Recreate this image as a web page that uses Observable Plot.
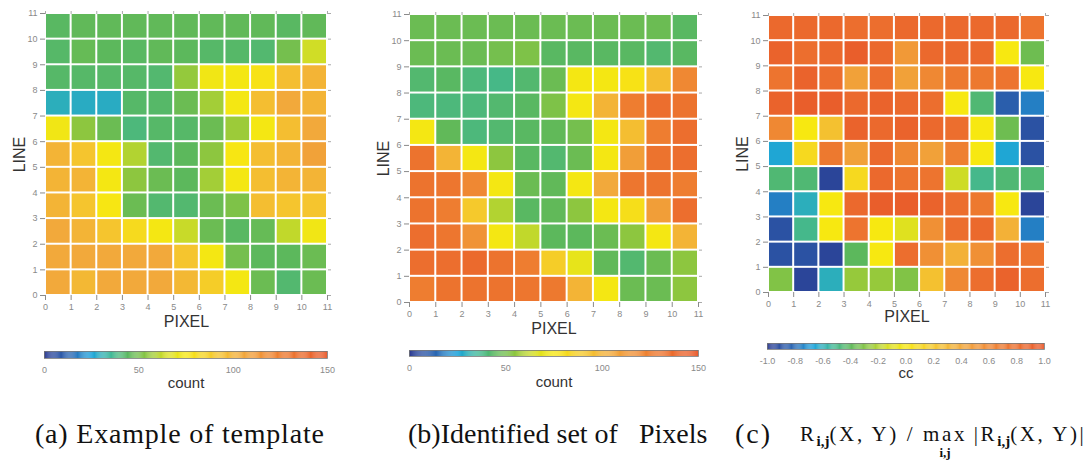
<!DOCTYPE html>
<html><head><meta charset="utf-8">
<script src="https://cdn.jsdelivr.net/npm/d3@7"></script>
<script src="https://cdn.jsdelivr.net/npm/@observablehq/plot@0.6"></script>
<style>
body{margin:0;background:#fff;width:1090px;height:462px;position:relative;overflow:hidden;font-family:"Liberation Sans",Arial,sans-serif;}
.pos{position:absolute;}
.cap{position:absolute;font-family:"Liberation Serif","DejaVu Serif",serif;color:#111;white-space:nowrap;line-height:1;}
.stack{display:inline-block;position:relative;}
.under{position:absolute;left:0;right:0;top:22px;text-align:center;font-weight:bold;font-size:13px;letter-spacing:0;line-height:1;}
</style></head><body>
<script>
// ---- data ----
const pixels = [0,1,2,3,4,5,6,7,8,9,10];
const lines  = [10,9,8,7,6,5,4,3,2,1,0]; // rows listed top to bottom
const axisTicks = [0,1,2,3,4,5,6,7,8,9,10,11];
const countTicks = [0,50,100,150];
const ccTicks = [-1.0,-0.8,-0.6,-0.4,-0.2,0.0,0.2,0.4,0.6,0.8,1.0];

const templateCounts = [
 [44,46,46,46,46,46,46,46,46,44,46],
 [43,47,45,44,46,45,43,43,42,50,64],
 [43,43,43,43,42,56,73,74,78,95,100],
 [30,29,29,43,43,48,58,74,95,105,100],
 [73,55,48,40,43,43,48,57,74,95,105],
 [100,92,74,60,42,45,55,76,95,100,108],
 [100,100,74,55,48,45,58,74,95,100,100],
 [100,92,76,48,42,42,48,52,95,92,92],
 [105,100,92,82,74,63,48,44,47,62,73],
 [105,105,105,105,105,92,74,50,45,45,48],
 [105,98,105,105,105,98,88,74,48,42,48]
];
const identifiedCounts = [
 [48,48,48,48,48,48,48,48,48,48,44],
 [48,48,48,50,52,44,44,44,44,42,44],
 [42,44,40,38,42,48,74,74,78,95,120],
 [40,40,40,42,44,52,74,100,125,135,132],
 [74,46,40,42,44,46,50,74,95,125,135],
 [132,100,74,55,44,42,48,74,110,132,135],
 [132,130,120,74,48,46,74,105,130,132,125],
 [132,125,90,60,44,46,55,74,80,110,135],
 [135,130,115,74,62,45,45,48,55,74,100],
 [135,135,138,132,125,88,70,46,42,48,55],
 [125,132,132,132,130,128,100,74,48,48,55]
];
const ccValues = [
 [0.85,0.85,0.85,0.8,0.8,0.85,0.85,0.85,0.85,0.85,0.75],
 [0.9,0.8,0.85,0.95,0.85,0.5,0.85,0.85,0.85,0.0,-0.35],
 [0.75,0.9,0.8,0.45,0.8,0.45,0.6,0.7,0.7,0.75,0.0],
 [0.9,0.95,0.95,0.85,0.9,0.85,0.8,0.0,-0.45,-0.85,-0.75],
 [0.6,0.0,0.25,0.9,0.85,0.9,0.85,0.8,0.0,-0.35,-0.9],
 [-0.65,0.1,0.7,0.45,0.85,0.6,0.45,0.65,0.0,-0.65,-0.9],
 [-0.45,-0.45,-0.95,0.1,0.85,0.75,0.75,-0.15,-0.5,-0.45,-0.45],
 [-0.75,-0.6,0.0,0.85,0.95,0.95,0.9,0.8,0.7,0.0,-0.95],
 [-0.9,-0.5,0.0,0.75,0.0,-0.1,0.55,0.8,0.85,0.35,-0.75],
 [-0.9,-0.9,-0.95,-0.4,0.0,0.8,0.55,0.35,0.55,0.8,0.75],
 [-0.3,-0.95,-0.6,-0.25,-0.25,-0.3,0.25,0.6,0.8,0.9,0.8]
];

// colour ramp (count units)
const rampStops  = [0,15,25,35,45,55,65,75,90,105,125,150];
const rampColors = ["#2b3990","#2a6ab5","#1ba3dc","#3db89a","#5cb85c","#8dc63f","#d7df23","#f7e811","#f5c92c","#f2a93b","#ee7d30","#e8582a"];
const ccStops = rampStops.map(d => d/75 - 1);

function toCells(rows){
  return lines.flatMap((ln, r) => pixels.map((px, c) => ({px, ln, v: rows[r][c]})));
}

function heat(rows, stops, o){
  const cells = toCells(rows);
  return Plot.plot({
    width: o.w, height: o.h,
    marginLeft: o.ml, marginRight: o.w - o.ml - o.pw, marginTop: o.mt, marginBottom: o.h - o.mt - o.ph,
    style: {fontFamily: "Liberation Sans, Arial, sans-serif", background: "transparent", overflow: "visible"},
    x: {domain: [0, 11]},
    y: {domain: [0, 11]},
    color: {type: "linear", domain: stops, range: rampColors},
    marks: [
      Plot.rect(cells, {x1: "px", x2: d => d.px + 1, y1: "ln", y2: d => d.ln + 1, fill: "v", inset: 1}),
      Plot.axisX({ticks: axisTicks, tickSize: 5, tickPadding: 3, fontSize: 9, color: "#8a8a8a", label: null}),
      Plot.axisY({ticks: axisTicks, tickSize: 5, tickPadding: 3, fontSize: 9, color: "#8a8a8a", label: null}),
      Plot.axisX({anchor: "top", ticks: axisTicks, tickSize: 3, tickFormat: () => "", color: "#aaa", label: null}),
      Plot.axisY({anchor: "right", ticks: axisTicks, tickSize: 3, tickFormat: () => "", color: "#aaa", label: null}),
      Plot.text(["PIXEL"], {frameAnchor: "bottom", lineAnchor: "middle", dy: o.pdy, fontSize: 16, fill: "#333"}),
      Plot.text(["LINE"], {frameAnchor: "left", textAnchor: "middle", lineAnchor: "middle", dx: -26, rotate: -90, fontSize: 16, fill: "#333"})
    ]
  });
}

function bar(domain, stops, ticks, fmt, label, o){
  const n = 300;
  const steps = d3.range(n).map(i => domain[0] + (domain[1]-domain[0]) * i / n);
  const dw = (domain[1]-domain[0]) / n;
  return Plot.plot({
    width: o.w, height: o.h,
    marginLeft: o.ml, marginRight: o.w - o.ml - o.pw, marginTop: 0, marginBottom: o.h - o.bh,
    style: {fontFamily: "Liberation Sans, Arial, sans-serif", background: "transparent", overflow: "visible"},
    x: {domain},
    y: {domain: [0, 1], axis: null},
    color: {type: "linear", domain: stops, range: rampColors},
    marks: [
      Plot.rect(steps, {x1: d => d, x2: d => d + dw * 1.05, y1: 0, y2: 1, fill: d => d + dw/2}),
      Plot.frame({stroke: "#777", strokeWidth: 0.8}),
      Plot.axisX({ticks, tickFormat: fmt, tickSize: 0, tickPadding: 8, fontSize: 9, color: "#8a8a8a", label: null}),
      Plot.text([label], {frameAnchor: "bottom", lineAnchor: "middle", dy: o.ldy, fontSize: 15, fill: "#333"})
    ]
  });
}

function place(node, left, top){
  node.classList.add("pos");
  node.style.left = left + "px"; node.style.top = top + "px";
  document.body.appendChild(node);
}

place(heat(templateCounts, rampStops, {w:340, h:335, ml:45, pw:282, mt:13, ph:282, pdy:26}), 0, 0);
place(heat(identifiedCounts, rampStops, {w:358, h:340, ml:49, pw:289, mt:14, ph:288, pdy:26}), 360, 0);
place(heat(ccValues, ccStops, {w:345, h:325, ml:48, pw:277, mt:15, ph:277, pdy:24}), 720, 0);

place(bar([0,150], rampStops, countTicks, d => d, "count", {w:340, h:40, ml:44, pw:283, bh:7, ldy:25}), 0, 351);
place(bar([0,150], rampStops, countTicks, d => d, "count", {w:358, h:40, ml:49, pw:289, bh:6, ldy:26}), 360, 350);
place(bar([-1,1], ccStops, ccTicks, d => d.toFixed(1), "cc", {w:345, h:40, ml:47, pw:277, bh:6, ldy:24}), 720, 343);

// captions
function cap(html, left, top, size, ls){
  const d = document.createElement("div");
  d.className = "cap"; d.innerHTML = html;
  d.style.left = left + "px"; d.style.top = top + "px"; d.style.fontSize = size + "px";
  d.style.letterSpacing = ls + "px";
  document.body.appendChild(d);
}
cap("(a) Example of template", 35, 420, 28, 0.8);
cap("(b)Identified set of&nbsp;&nbsp; Pixels", 408, 420, 28, 0);
cap("(c)", 735, 420, 28, 2);
cap('R<sub style="font-weight:bold;font-size:15px;letter-spacing:0">i,j</sub>(X,&thinsp;Y) / <span class="stack">max<span class="under">i,j</span></span>&thinsp;|R<sub style="font-weight:bold;font-size:15px;letter-spacing:0">i,j</sub>(X,&thinsp;Y)|', 800, 424, 21, 2.6);
</script>
</body></html>
